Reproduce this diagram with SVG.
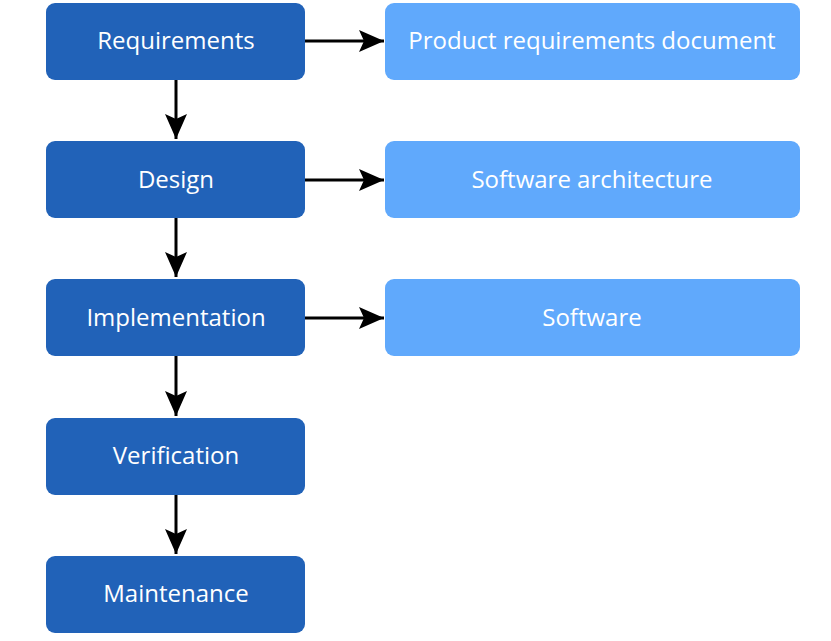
<svg xmlns="http://www.w3.org/2000/svg" width="831" height="641" viewBox="0 0 831 641">
<style>
.dark{fill:#2162b8}
.light{fill:#60a9fc}
text{font-family:"Open Sans","Noto Sans",sans-serif;font-size:24px;fill:#ffffff;text-anchor:middle}
.c{stroke:#000;stroke-width:3;fill:none}
</style>
<defs>
<marker id="ah" markerWidth="26" markerHeight="22" refX="25" refY="11" orient="auto" markerUnits="userSpaceOnUse" viewBox="0 0 26 22">
<path d="M0,0 L25,11 L0,22 L5,11 Z" fill="#000"/>
</marker>
</defs>
<rect width="831" height="641" fill="#fff"/>
<g id="connectors">
<line class="c" x1="305" y1="41" x2="384" y2="41" marker-end="url(#ah)"/>
<line class="c" x1="305" y1="180" x2="384" y2="180" marker-end="url(#ah)"/>
<line class="c" x1="305" y1="318" x2="384" y2="318" marker-end="url(#ah)"/>
<line class="c" x1="176" y1="80" x2="176" y2="139" marker-end="url(#ah)"/>
<line class="c" x1="176" y1="218" x2="176" y2="277" marker-end="url(#ah)"/>
<line class="c" x1="176" y1="356" x2="176" y2="416" marker-end="url(#ah)"/>
<line class="c" x1="176" y1="495" x2="176" y2="554" marker-end="url(#ah)"/>
</g>
<g id="requirements"><rect class="dark" x="46" y="3" width="259" height="77" rx="9"/><text x="176" y="49">Requirements</text></g>
<g id="design"><rect class="dark" x="46" y="141" width="259" height="77" rx="9"/><text x="176" y="188">Design</text></g>
<g id="implementation"><rect class="dark" x="46" y="279" width="259" height="77" rx="9"/><text x="176" y="326">Implementation</text></g>
<g id="verification"><rect class="dark" x="46" y="418" width="259" height="77" rx="9"/><text x="176" y="464">Verification</text></g>
<g id="maintenance"><rect class="dark" x="46" y="556" width="259" height="77" rx="9"/><text x="176" y="602">Maintenance</text></g>
<g id="prd"><rect class="light" x="385" y="3" width="415" height="77" rx="9"/><text x="592" y="49">Product requirements document</text></g>
<g id="architecture"><rect class="light" x="385" y="141" width="415" height="77" rx="9"/><text x="592" y="188">Software architecture</text></g>
<g id="software"><rect class="light" x="385" y="279" width="415" height="77" rx="9"/><text x="592" y="326">Software</text></g>
</svg>
